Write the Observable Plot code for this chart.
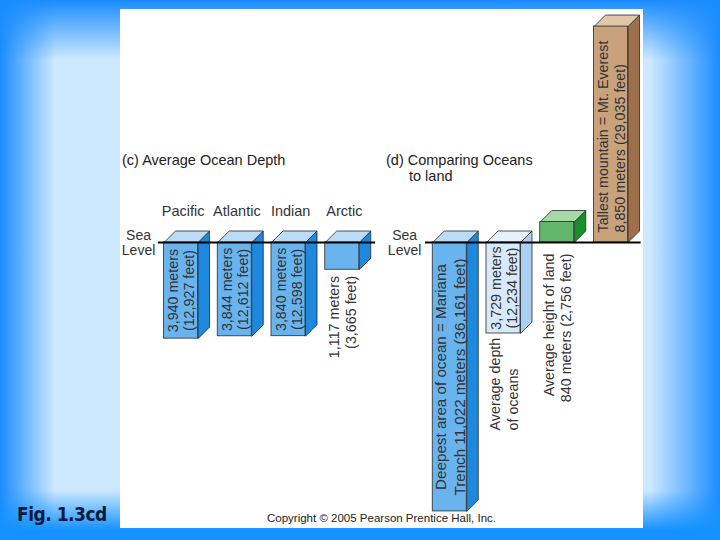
<!DOCTYPE html>
<html>
<head>
<meta charset="utf-8">
<script src="https://cdn.jsdelivr.net/npm/d3@7"></script>
<script src="https://cdn.jsdelivr.net/npm/@observablehq/plot@0.6"></script>
<style>
  html, body { margin: 0; padding: 0; }
  body {
    width: 720px; height: 540px; position: relative; overflow: hidden;
    font-family: "Liberation Sans", Arial, sans-serif;
    background:
      linear-gradient(to bottom, #1a8cff 0px, rgba(26,140,255,0) 60px, rgba(26,140,255,0) 490px, #1592ff 530px, #1592ff 540px),
      linear-gradient(to right, #1a8cff 0px, #cde9ff 55px, #cde9ff 650px, #1a8cff 720px);
  }
  #panel { position: absolute; left: 120px; top: 9px; width: 523px; height: 519px; background: white; }
  #panel svg { position: absolute; left: 0; top: 0; }
  .t { position: absolute; font-size: 14.5px; color: #222; white-space: nowrap; line-height: 16px; }
  #copy { position: absolute; left: 0; width: 523px; top: 503px; text-align: center; font-size: 11.5px; color: #222; }
  #fig { position: absolute; left: 17px; top: 503px; font-family: "DejaVu Sans", sans-serif; font-stretch: condensed; font-weight: bold; font-size: 19px; color: #0a1a3c; letter-spacing: -0.5px; }
</style>
</head>
<body>
<div id="panel">
  <div id="chart"></div>
  <div class="t" style="left:2px; top:143px;">(c) Average Ocean Depth</div>
  <div class="t" style="left:266px; top:143px;">(d) Comparing Oceans</div>
  <div class="t" style="left:289px; top:159px;">to land</div>
  <div id="copy">Copyright © 2005 Pearson Prentice Hall, Inc.</div>
</div>
<div id="fig">Fig. 1.3cd</div>
<script>
// ---- data ----
const oceanNames = ["Pacific", "Atlantic", "Indian", "Arctic"];
const oceanDepthMeters = [3940, 3844, 3840, 1117];
const oceanDepthFeet = [12927, 12612, 12598, 3665];

const compareNames = ["Mariana Trench", "Average depth of oceans", "Average height of land", "Mt. Everest"];
const compareMeters = [-11022, -3729, 840, 8850];
const compareFeet = [-36161, -12234, 2756, 29035];
const compareKinds = ["ocean", "avg", "land", "mountain"];

// ---- layout / style ----
const W = 523, H = 519;
const xDomain = [0, 8], xRange = [60.5, 490.5];
const yDomain = [-11721, 9549];
const pxSlot = (xRange[1] - xRange[0]) / (xDomain[1] - xDomain[0]);
const pxM = H / (yDomain[1] - yDomain[0]);
const pxY = p => p / pxM;        // pixels -> meters
const pxX = p => p / pxSlot;     // pixels -> slots
const hw = pxX(17), ox = pxX(11.5), oy = pxY(11.5);

const palettes = {
  ocean:    {front: "#69b3ef", side: "#1c88de", top: "#badcf8"},
  avg:      {front: "#d7e9fa", side: "#a9cff2", top: "#e6f1fc"},
  land:     {front: "#63b66d", side: "#15902b", top: "#a6d9a6"},
  mountain: {front: "#c9a27c", side: "#9e6f4a", top: "#e0c7a8"}
};
const fmt = d3.format(",");

const bars = [
  ...oceanNames.map((name, i) => ({id: name, slot: i, v: -oceanDepthMeters[i], kind: "ocean"})),
  ...compareNames.map((name, i) => ({id: name, slot: i + 5, v: compareMeters[i], kind: compareKinds[i]}))
];

const polys = bars.flatMap(b => {
  const top = Math.max(0, b.v), bot = Math.min(0, b.v), x1 = b.slot - hw, x2 = b.slot + hw;
  const p = palettes[b.kind];
  const side = [[x2, top], [x2 + ox, top + oy], [x2 + ox, bot + oy], [x2, bot], [x2, top]]
    .map(([x, y]) => ({id: b.id + "-side", x, y, fill: p.side}));
  const topF = [[x1, top], [x1 + ox, top + oy], [x2 + ox, top + oy], [x2, top], [x1, top]]
    .map(([x, y]) => ({id: b.id + "-top", x, y, fill: p.top}));
  return [...side, ...topF];
});
const fronts = bars.map(b => ({x1: b.slot - hw, x2: b.slot + hw, y1: Math.min(0, b.v), y2: Math.max(0, b.v), fill: palettes[b.kind].front}));

const insideLabels = [
  ...oceanNames.slice(0, 3).map((n, i) => ({x: i, y: -oceanDepthMeters[i] / 2, text: `${fmt(oceanDepthMeters[i])} meters\n(${fmt(oceanDepthFeet[i])} feet)`})),
  {x: 6, y: compareMeters[1] / 2, text: `${fmt(-compareMeters[1])} meters\n(${fmt(-compareFeet[1])} feet)`}
];
const marianaLabel = [
  {x: 5, y: compareMeters[0] / 2, text: `Deepest area of ocean = Mariana\nTrench ${fmt(-compareMeters[0])} meters (${fmt(-compareFeet[0])} feet)`}
];
const belowEndLabels = [
  {x: 3, y: -oceanDepthMeters[3] - pxY(6), text: `${fmt(oceanDepthMeters[3])} meters\n(${fmt(oceanDepthFeet[3])} feet)`},
  {x: 7, y: -pxY(11), text: `Average height of land\n${fmt(compareMeters[2])} meters (${fmt(compareFeet[2])} feet)`}
];
const startLabels = [
  {x: 6, y: compareMeters[1] - pxY(97), text: "Average depth\nof oceans"},
  {x: 8, y: pxY(10), text: `Tallest mountain = ${compareNames[3]}\n${fmt(compareMeters[3])} meters (${fmt(compareFeet[3])} feet)`}
];

const chart = Plot.plot({
  width: W, height: H, margin: 0,
  x: {type: "linear", domain: xDomain, range: xRange, axis: null},
  y: {type: "linear", domain: yDomain, range: [H, 0], axis: null},
  color: {type: "identity"},
  style: {background: "transparent", fontFamily: "Liberation Sans, Arial, sans-serif", color: "#333"},
  marks: [
    Plot.line(polys, {x: "x", y: "y", z: "id", fill: "fill", stroke: "#2a2a2a", strokeWidth: 0.8, curve: "linear"}),
    Plot.rect(fronts, {x1: "x1", x2: "x2", y1: "y1", y2: "y2", fill: "fill", stroke: "#2a2a2a", strokeWidth: 0.8}),
    Plot.ruleY([0], {x1: -0.42, x2: 3.62, stroke: "#000", strokeWidth: 2}),
    Plot.ruleY([0], {x1: 4.55, x2: 8.56, stroke: "#000", strokeWidth: 2}),
    Plot.text(oceanNames.map((n, i) => ({x: i + 0.04, n})), {x: "x", y: pxY(31), text: "n", fontSize: 14.5, fill: "#333"}),
    Plot.text([-0.79, 4.16], {x: d => d, y: 0, text: () => "Sea\nLevel", fontSize: 14, lineHeight: 1.1, fill: "#333"}),
    Plot.text(insideLabels, {x: "x", y: "y", text: "text", rotate: -90, fontSize: 14.3, lineHeight: 1.15, fill: "#333"}),
    Plot.text(marianaLabel, {x: "x", y: "y", text: "text", rotate: -90, fontSize: 15.2, lineHeight: 1.2, fill: "#333"}),
    Plot.text(belowEndLabels, {x: "x", y: "y", text: "text", rotate: -90, textAnchor: "end", fontSize: 14.3, lineHeight: 1.2, fill: "#333"}),
    Plot.text(startLabels, {x: "x", y: "y", text: "text", rotate: -90, textAnchor: "start", fontSize: 14.3, lineHeight: 1.2, fill: "#333"})
  ]
});
document.getElementById("chart").appendChild(chart);
</script>
</body>
</html>
